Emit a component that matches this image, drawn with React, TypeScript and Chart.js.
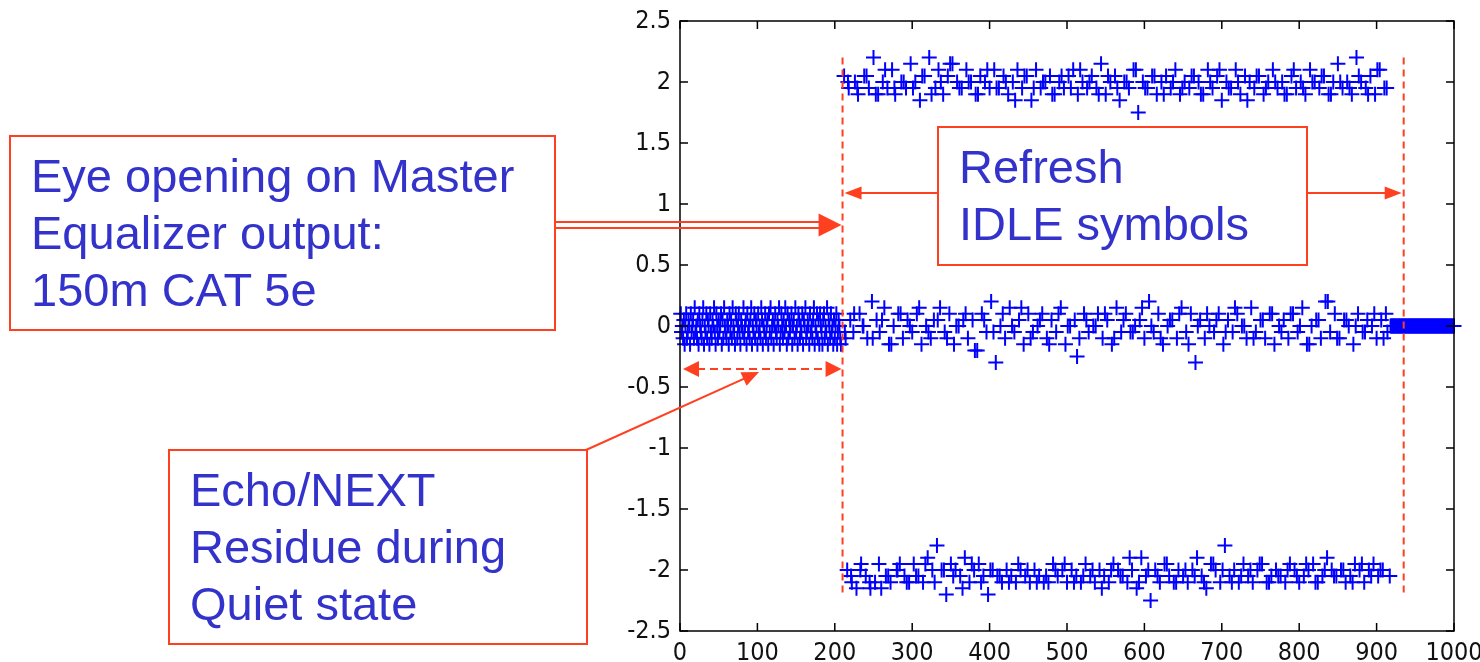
import React, { useEffect, useRef } from "react";
import { Chart, registerables } from "chart.js";

Chart.register(...registerables);

// ---- data (sample index on x, equalizer output on y) ----
const quietStart = 1;
const quietStep = 1;
const quietValues = [
  0.1, -0.05, 0.0, -0.1, 0.05, -0.15, 0.0, 0.1, -0.1, -0.05, 0.05, 0.0, -0.15, 0.1, -0.05, 0.0, 0.05, -0.1, 0.15, -0.05,
  0.0, -0.1, 0.05, -0.15, 0.1, 0.0, -0.05, -0.1, 0.05, 0.15, -0.15, 0.0, -0.05, 0.1, -0.1, 0.05, 0.0, -0.15, 0.1, -0.05,
  -0.1, 0.05, 0.0, 0.15, -0.05, -0.15, 0.1, 0.0, -0.1, 0.05, -0.05, 0.0, 0.1, -0.15, 0.05, -0.1, 0.15, 0.0, -0.05, -0.1,
  0.05, 0.0, -0.15, 0.1, -0.05, 0.05, -0.1, 0.15, 0.0, -0.05, -0.15, 0.1, 0.05, -0.1, 0.0, 0.1, -0.05, -0.15, 0.05, 0.0,
  -0.05, 0.15, -0.1, 0.0, 0.05, -0.15, 0.1, -0.05, 0.0, -0.1, 0.05, 0.15, -0.15, 0.0, -0.05, 0.1, -0.1, 0.05, 0.0, -0.15,
  0.1, -0.05, 0.0, -0.1, 0.15, 0.05, -0.15, 0.0, -0.05, 0.1, -0.1, 0.0, 0.05, -0.15, 0.1, -0.05, 0.15, -0.1, 0.0, 0.05,
  -0.15, 0.0, 0.1, -0.05, -0.1, 0.05, 0.0, 0.15, -0.15, -0.05, 0.1, 0.0, -0.1, 0.05, -0.05, 0.15, 0.0, -0.15, 0.1, -0.1,
  0.05, -0.05, 0.0, 0.1, -0.15, 0.0, 0.05, -0.1, 0.15, -0.05, 0.0, -0.15, 0.1, 0.05, -0.1, 0.0, -0.05, 0.1, -0.15, 0.05,
  0.0, 0.15, -0.1, -0.05, 0.05, 0.0, -0.15, 0.1, -0.05, 0.0, -0.1, 0.05, 0.15, -0.15, 0.0, -0.05, 0.1, -0.1, 0.05, -0.15,
  0.1, 0.0, -0.05, -0.15, 0.05, 0.1, -0.1, 0.0, -0.05, 0.15, -0.15, 0.05, 0.0, -0.1, 0.1, -0.05, 0.0, -0.15, 0.05, -0.1,
  0.0, 0.1, -0.15, -0.05, 0.05, 0.0, -0.1, -0.15,
];

// refresh period, even samples
const refreshStart = 212;
const refreshStep = 2;
const refreshValues = [
  2.05, -0.1, -2.0, 1.95, 0.05, -2.1, -0.05, 2.0, -2.15, 1.9, 0.1, -1.95, 0.0, 2.05, -2.05, -0.1, 1.95, -2.15, 0.2, 2.2,
  -2.1, 0.05, 1.9, -0.05, -2.15, 2.0, 0.15, -2.05, 1.95, -0.15, -2.1, 2.1, 0.0, 1.9, -2.0, 0.1, -1.95, 2.0, -0.1, -2.05,
  1.95, 0.05, -2.1, 2.15, -0.05, -1.95, 2.0, 0.1, -2.05, 1.85, -0.15, -2.1, 2.05, 0.0, -1.9, 2.2, -0.1, -2.0, 0.05, 1.95,
  -1.8, 2.1, 0.15, -2.0, 1.9, -0.05, -2.2, 2.05, 0.1, -1.95, 2.15, -0.15, -2.0, 2.0, 0.0, -2.05, 1.95, 0.05, -1.9, 2.1,
  -0.1, -2.1, 2.0, 0.05, -2.0, 1.9, -0.2, -1.95, 2.05, 0.1, -2.05, 2.0, -0.05, -2.2, 1.95, 0.2, -2.0, 2.1, -0.3, -2.05,
  1.95, 0.0, -2.1, 2.05, -0.1, -2.0, 1.9, 0.15, -2.05, 2.0, -0.05, -2.1, 2.1, 0.05, -2.0, 1.95, -0.15, -2.05, 2.05, 0.1,
  -2.1, 1.85, -0.05, -2.0, 2.1, 0.0, -2.05, 1.95, 0.1, -2.1, 2.0, -0.1, -2.1, 2.05, 0.05, -1.95, 1.9, -0.05, -2.05, 2.0,
  0.15, -2.0, 1.95, -0.15, -2.1, 2.05, 0.0, -2.0, 2.1, 0.05, -2.05, 1.9, -0.1, -2.1, 2.0, 0.1, -1.95, 1.95, -0.05, -2.05,
  2.05, 0.0, -2.1, 1.95, 0.1, -2.0, 2.15, -0.1, -2.05, 1.9, 0.05, -2.1, 2.0, -0.15, -1.95, 2.05, 0.15, -2.0, 1.85, -0.05,
  -2.05, 2.0, 0.1, -2.1, 1.95, -0.05, -2.0, 2.1, 0.0, -2.15, 1.75, 0.05, -1.9, 2.0, -0.1, -2.05, 1.95, 0.2, -2.25, 2.05,
  -0.05, -2.0, 1.9, 0.1, -2.1, 2.0, -0.15, -1.95, 2.05, 0.0, -2.05, 1.95, 0.05, -2.1, 2.1, -0.1, -2.0, 1.9, 0.15, -2.05,
  2.0, -0.05, -2.1, 1.95, 0.1, -2.0, 2.05, -0.3, -1.9, 2.0, 0.05, -2.05, 1.9, -0.1, -2.15, 2.1, 0.0, -1.95, 1.95, -0.05,
  -2.0, 2.05, 0.1, -2.1, 1.85, -0.15, -1.8, 2.0, 0.05, -2.05, 1.95, -0.05, -2.0, 2.1, 0.1, -2.1, 1.9, 0.0, -1.95, 2.05,
  -0.1, -2.05, 2.0, 0.15, -2.1, 1.95, -0.05, -2.0, 2.05, 0.05, -1.95, 1.9, -0.1, -2.1, 2.0, 0.1, -2.05, 2.1, -0.15, -2.0,
  1.95, 0.0, -2.05, 2.0, 0.05, -2.1, 1.9, -0.1, -1.95, 2.05, 0.1, -2.0, 1.95, -0.05, -2.1, 2.0, 0.15, -2.05, 1.9, -0.15,
  -2.0, 2.1, 0.0, -1.95, 2.0, 0.05, -2.1, 1.95, -0.1, -2.05, 2.05, 0.2, -1.9, 1.9, -0.05, -2.0, 2.0, 0.1, -2.05, 2.15,
  -0.1, -2.0, 1.95, 0.05, -2.1, 2.0, 0.0, -2.05, 1.9, -0.15, -1.95, 2.2, 0.1, -2.0, 2.0, -0.05, -2.1, 1.95, 0.05, -2.0,
  2.05, 0.0, -1.95, 1.9, -0.1, -2.05, 2.1, 0.05, -2.0, 1.95, 0.1, -0.05,
];

// refresh period, additional odd samples
const refreshOddStart = 213;
const refreshOddStep = 4;
const refreshOddValues = [
  -0.05, 2.0, -2.05, 0.1, 1.95, -2.0, 0.0, 2.05, -2.1, -0.1, 1.9, -1.95, 0.05, 2.1, -2.05, -0.15, 1.95, -2.0, 0.1, 2.0,
  -2.1, 0.0, 1.95, -2.05, 0.15, 2.05, -1.95, -0.05, 1.9, -2.1, 0.05, 2.0, -2.0, -0.1, 2.15, -2.05, 0.0, 1.95, -2.15, 0.1,
  2.0, -1.95, -0.2, 1.9, -2.1, 0.05, 2.1, -2.0, -0.05, 1.95, -2.05, 0.1, 2.0, -2.1, 0.0, 1.85, -1.95, 0.15, 2.05, -2.0,
  -0.1, 1.95, -2.1, 0.05, 2.0, -2.05, -0.15, 1.9, -2.0, 0.1, 2.05, -1.95, 0.0, 1.95, -2.1, -0.25, 2.1, -2.05, 0.05, 2.0,
  -2.0, 0.0, 1.9, -2.15, 0.1, 2.05, -2.0, -0.1, 1.95, -2.05, 0.05, 2.0, -1.9, -0.05, 2.1, -2.1, 0.15, 1.95, -2.0, 0.0,
  2.05, -2.05, -0.1, 1.9, -1.95, 0.05, 2.0, -2.1, 0.1, 1.95, -2.0, -0.15, 2.05, -2.05, 0.0, 1.9, -2.1, 0.1, 2.0, -1.95,
  0.05, 2.1, -2.0, -0.05, 1.95, -2.1, 0.15, 2.0, -2.05, 0.0, 1.85, -2.0, -0.1, 2.05, -1.95, 0.05, 1.95, -2.1, 0.1, 2.0,
  -2.05, -0.05, 1.9, -2.0, 0.1, 2.1, -2.05, 0.0, 1.95, -1.95, -0.15, 2.0, -2.1, 0.05, 2.05, -2.0, 0.2, 1.9, -2.05, -0.1,
  2.0, -2.0, 0.05, 1.95, -2.1, 0.0, 2.05, -1.95, -0.05, 1.9, -2.05, 0.1, 2.1, -2.0, -0.1, 1.95, -2.05,
];

const idleStart = 918;
const idleStep = 1;
const idleValues = [
  0, 0, 0, 0, 0, 0, 0, 0, 0, 0, 0, 0, 0, 0, 0, 0, 0,
  0, 0, 0, 0, 0, 0, 0, 0, 0, 0, 0, 0, 0, 0, 0, 0, 0,
  0, 0, 0, 0, 0, 0, 0, 0, 0, 0, 0, 0, 0, 0, 0, 0, 0,
  0, 0, 0, 0, 0, 0, 0, 0, 0, 0, 0, 0, 0, 0, 0, 0, 0,
  0, 0, 0, 0, 0, 0, 0, 0, 0, 0, 0, 0, 0, 0, 0,
];

const xTicks = [0, 100, 200, 300, 400, 500, 600, 700, 800, 900, 1000];
const yTicks = [-2.5, -2, -1.5, -1, -0.5, 0, 0.5, 1, 1.5, 2, 2.5];
const refreshBoundaries = [210, 935];
const boundaryTop = 2.2;
const boundaryBottom = -2.2;

const eyeText = ["Eye opening on Master", "Equalizer output:", "150m CAT 5e"];
const refreshText = ["Refresh", "IDLE symbols"];
const quietText = ["Echo/NEXT", "Residue during", "Quiet state"];

// ---- styles ----
const RED = "#ff4020";
const BLUE = "#0000ff";
const TEXT_BLUE = "#3333cc";
const TICK_FONT = "'Liberation Sans Narrow', 'DejaVu Sans Condensed', 'Liberation Sans', Arial, sans-serif";
const NOTE_FONT = "'Liberation Sans', Arial, Helvetica, sans-serif";

function toPoints(start: number, step: number, values: number[]) {
  return values.map((y, i) => ({ x: start + i * step, y }));
}

function head(ctx: CanvasRenderingContext2D, tx: number, ty: number, angle: number, len: number, half: number) {
  ctx.save();
  ctx.translate(tx, ty);
  ctx.rotate(angle);
  ctx.beginPath();
  ctx.moveTo(0, 0);
  ctx.lineTo(-len, -half);
  ctx.lineTo(-len, half);
  ctx.closePath();
  ctx.fill();
  ctx.restore();
}

const overlayPlugin = {
  id: "overlay",
  afterDatasetsDraw(chart: any) {
    const { ctx, chartArea: a, scales } = chart;
    const xs = scales.x;
    const ys = scales.y;
    ctx.save();
    // dashed boundaries
    ctx.strokeStyle = RED;
    ctx.lineWidth = 2;
    ctx.setLineDash([7, 5]);
    for (const b of refreshBoundaries) {
      const px = xs.getPixelForValue(b);
      ctx.beginPath();
      ctx.moveTo(px, ys.getPixelForValue(boundaryTop));
      ctx.lineTo(px, ys.getPixelForValue(boundaryBottom));
      ctx.stroke();
    }
    ctx.setLineDash([]);
    // frame
    ctx.strokeStyle = "#000";
    ctx.lineWidth = 1.5;
    ctx.strokeRect(a.left, a.top, a.right - a.left, a.bottom - a.top);
    // inward ticks
    const tl = 8;
    ctx.beginPath();
    for (const t of xTicks) {
      const px = xs.getPixelForValue(t);
      ctx.moveTo(px, a.bottom);
      ctx.lineTo(px, a.bottom - tl);
      ctx.moveTo(px, a.top);
      ctx.lineTo(px, a.top + tl);
    }
    for (const t of yTicks) {
      const py = ys.getPixelForValue(t);
      ctx.moveTo(a.left, py);
      ctx.lineTo(a.left + tl, py);
      ctx.moveTo(a.right, py);
      ctx.lineTo(a.right - tl, py);
    }
    ctx.stroke();

    // ---- annotation arrows ----
    ctx.strokeStyle = RED;
    ctx.fillStyle = RED;
    ctx.lineWidth = 2;
    const bLeft = xs.getPixelForValue(refreshBoundaries[0]);
    const bRight = xs.getPixelForValue(refreshBoundaries[1]);

    // double-line arrow from the eye-opening box
    const eyeTip = bLeft - 1;
    ctx.beginPath();
    ctx.moveTo(555, 222);
    ctx.lineTo(eyeTip - 22, 222);
    ctx.moveTo(555, 228);
    ctx.lineTo(eyeTip - 22, 228);
    ctx.stroke();
    head(ctx, eyeTip, 225, 0, 23, 11.5);

    // refresh arrows
    ctx.beginPath();
    ctx.moveTo(938, 193);
    ctx.lineTo(bLeft + 14, 193);
    ctx.moveTo(1306, 193);
    ctx.lineTo(bRight - 14, 193);
    ctx.stroke();
    head(ctx, bLeft + 2, 193, Math.PI, 17, 6.5);
    head(ctx, bRight - 2, 193, 0, 17, 6.5);

    // quiet span dashed double arrow
    const qL = xs.getPixelForValue(0) + 3;
    const qR = bLeft - 1;
    ctx.setLineDash([8, 5]);
    ctx.beginPath();
    ctx.moveTo(qL + 14, 369);
    ctx.lineTo(qR - 14, 369);
    ctx.stroke();
    ctx.setLineDash([]);
    head(ctx, qL, 369, Math.PI, 16, 8);
    head(ctx, qR, 369, 0, 16, 8);

    // pointer from echo box
    const sx = 586, sy = 450, tx = 759, ty = 372;
    const ang = Math.atan2(ty - sy, tx - sx);
    ctx.beginPath();
    ctx.moveTo(sx, sy);
    ctx.lineTo(tx - Math.cos(ang) * 12, ty - Math.sin(ang) * 12);
    ctx.stroke();
    head(ctx, tx, ty, ang, 17, 7.5);
    ctx.restore();
  },
};

function NoteBox(props: { left: number; top: number; width: number; height: number; lines: string[] }) {
  const { left, top, width, height, lines } = props;
  return (
    <div
      style={{
        position: "absolute",
        left,
        top,
        width,
        height,
        boxSizing: "border-box",
        border: `2px solid ${RED}`,
        padding: "10px 0 0 20px",
        fontFamily: NOTE_FONT,
        fontSize: 47,
        lineHeight: "57px",
        color: TEXT_BLUE,
        whiteSpace: "nowrap",
      }}
    >
      {lines.map((l, i) => (
        <div key={i}>{l}</div>
      ))}
    </div>
  );
}

export default function App() {
  const canvasRef = useRef<HTMLCanvasElement | null>(null);

  useEffect(() => {
    if (!canvasRef.current) return;
    const pointStyle = {
      showLine: false,
      pointStyle: "cross" as const,
      pointRadius: 7.5,
      pointHoverRadius: 7.5,
      pointBorderWidth: 2,
      pointBorderColor: BLUE,
      pointBackgroundColor: BLUE,
      borderColor: BLUE,
      clip: false as any,
    };
    const chart = new Chart(canvasRef.current, {
      type: "scatter",
      data: {
        datasets: [
          { label: "Quiet", data: toPoints(quietStart, quietStep, quietValues), ...pointStyle },
          { label: "Refresh", data: toPoints(refreshStart, refreshStep, refreshValues), ...pointStyle },
          { label: "RefreshOdd", data: toPoints(refreshOddStart, refreshOddStep, refreshOddValues), ...pointStyle },
          { label: "Idle", data: toPoints(idleStart, idleStep, idleValues), ...pointStyle },
        ],
      },
      options: {
        animation: false,
        responsive: false,
        devicePixelRatio: 1,
        layout: { padding: { left: 0, top: 21, right: 26, bottom: 0 } },
        plugins: { legend: { display: false }, tooltip: { enabled: false } },
        scales: {
          x: {
            type: "linear",
            min: 0,
            max: 1000,
            afterBuildTicks: (s: any) => {
              s.ticks = xTicks.map((v) => ({ value: v }));
            },
            afterFit: (s: any) => {
              s.height = 31;
              s.paddingLeft = 0;
              s.paddingRight = 0;
            },
            grid: { display: false, drawTicks: false },
            border: { display: false },
            ticks: {
              padding: 7,
              color: "#111",
              font: { family: TICK_FONT, size: 25 },
              maxRotation: 0,
              autoSkip: false,
              callback: (v: any) => String(v),
            },
          },
          y: {
            type: "linear",
            min: -2.5,
            max: 2.5,
            afterBuildTicks: (s: any) => {
              s.ticks = yTicks.map((v) => ({ value: v }));
            },
            afterFit: (s: any) => {
              s.width = 680;
              s.paddingTop = 0;
              s.paddingBottom = 0;
            },
            grid: { display: false, drawTicks: false },
            border: { display: false },
            ticks: {
              padding: 9,
              color: "#111",
              font: { family: TICK_FONT, size: 25 },
              autoSkip: false,
              callback: (v: any) => String(v),
            },
          },
        },
      },
      plugins: [overlayPlugin],
    });
    return () => chart.destroy();
  }, []);

  return (
    <div style={{ position: "fixed", left: 0, top: 0, width: 1480, height: 662, background: "#fff", overflow: "hidden" }}>
      <canvas ref={canvasRef} width={1480} height={662} style={{ position: "absolute", left: 0, top: 0, width: 1480, height: 662 }} />
      <NoteBox left={9} top={135} width={547} height={196} lines={eyeText} />
      <NoteBox left={937} top={126} width={371} height={140} lines={refreshText} />
      <NoteBox left={168} top={449} width={420} height={196} lines={quietText} />
    </div>
  );
}
